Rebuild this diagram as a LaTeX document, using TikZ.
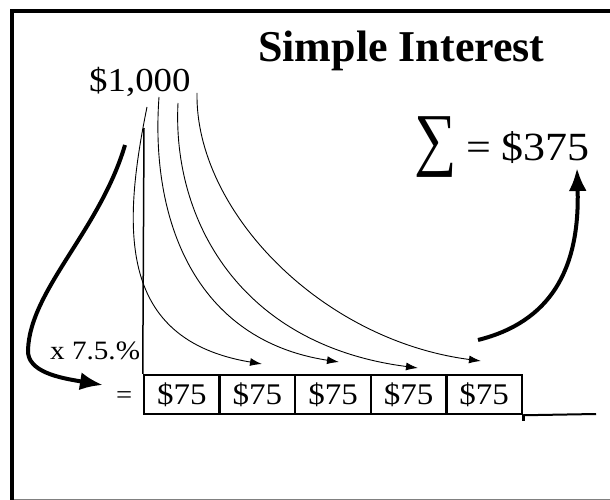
\documentclass[tikz,border=0pt]{standalone}
\usepackage{fontspec}
\setmainfont{Liberation Serif}[FakeStretch=1.1]
\newfontfamily\headfont{Liberation Serif}
\newfontfamily\sumfont{Liberation Serif}[FakeStretch=0.85]
\usetikzlibrary{arrows.meta}

\begin{document}
\begin{tikzpicture}[x=1pt, y=-1pt,
    cell/.style={draw, line width=2.5pt, minimum width=75.6pt, minimum height=39pt, inner sep=0pt, font=\fontsize{30}{34}\selectfont},
    txt/.style={inner sep=0pt, anchor=base west},
    link/.style={-{Latex[length=12pt,width=8pt]}, line width=0.9pt},
    bigarr/.style={-{Latex[length=23pt,width=18pt]}, line width=4pt}
]
    \useasboundingbox (0,0) rectangle (610,500);
    % frame
    \draw[gray, line width=0.8pt] (12,499) -- (610,499);
    \draw[line width=3.5pt] (610,11) -- (12,11) -- (12,500);

    % texts
    \node[txt, font=\headfont\bfseries\fontsize{44}{48}\selectfont] (title) at (258,62) {Simple Interest};
    \node[txt, font=\fontsize{33.5}{36}\selectfont] (principal) at (89,92) {\$1,000};
    \node[txt, font=\sumfont\fontsize{70}{70}\selectfont] (sigma) at (414,162) {∑};
    \node[txt, font=\fontsize{40}{42}\selectfont] (total) at (466,160) {= \$375};
    \node[txt, font=\fontsize{26.5}{30}\selectfont] (rate) at (50,359) {x 7.5.\%};
    \node[txt, font=\fontsize{26}{30}\selectfont] (eqsign) at (116,403) {=};

    % interest cells
    \foreach \i in {1,...,5}
        \node[cell] (b\i) at ({144+75.6*(\i-0.5)}, 394.5) {\$75};
    \draw[line width=2pt] (b5.south east) -- (596,414);
    \draw[line width=2.5pt] (b5.south east) -- ++(0,6);

    % axis
    \coordinate (axtop) at (144,128);
    \draw[line width=1.5pt] (b1.north west) -- (axtop);

    % yearly links
    \coordinate (s1) at (147,107); \coordinate (t1) at (262,364);
    \coordinate (s2) at (159,97);  \coordinate (t2) at (339,362);
    \coordinate (s3) at (178,103); \coordinate (t3) at (418,368);
    \coordinate (s4) at (197,93);  \coordinate (t4) at (481,361);
    \draw[link] (s1) .. controls (122,230) and (118,340) .. (t1);
    \draw[link] (s2) .. controls (150,220) and (195,340) .. (t2);
    \draw[link] (s3) .. controls (172,220) and (240,345) .. (t3);
    \draw[link] (s4) .. controls (195,210) and (320,340) .. (t4);

    % rate and sum arrows
    \coordinate (lstart) at (125,145); \coordinate (lbend) at (28,350); \coordinate (ltip) at (103,385);
    \draw[bigarr] (lstart) .. controls (100,230) and (30,290) .. (lbend)
        .. controls (27,372) and (60,378) .. (ltip);
    \coordinate (rstart) at (478,340); \coordinate (rtip) at (577,168);
    \draw[bigarr] (rstart) .. controls (550,322) and (580,270) .. (rtip);
\end{tikzpicture}
\end{document}
